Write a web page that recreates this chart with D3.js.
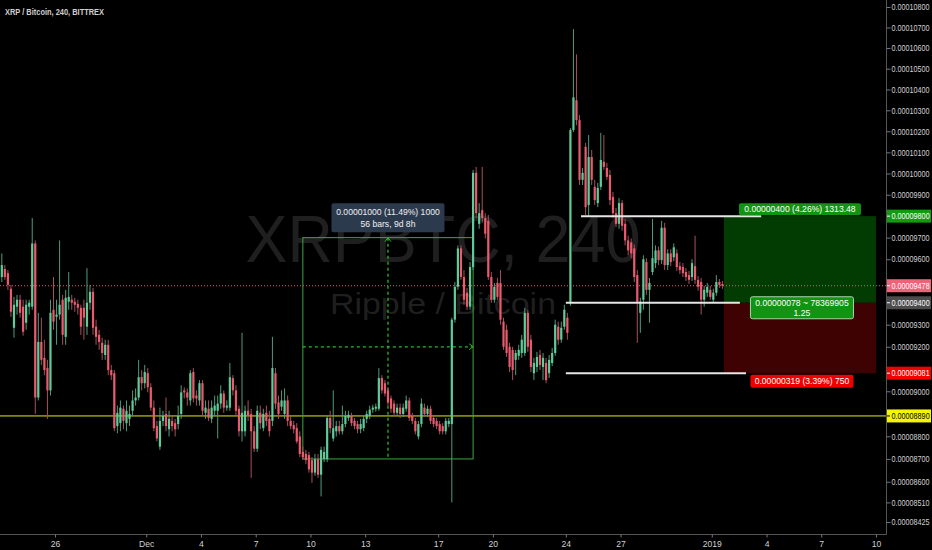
<!DOCTYPE html>
<html><head><meta charset="utf-8">
<script src="https://cdn.jsdelivr.net/npm/d3@7"></script>
<style>html,body{margin:0;padding:0;background:#000;overflow:hidden}svg{display:block}</style>
</head><body>
<svg id="chart" width="932" height="550"></svg>
<script>
// ---- DATA (price in satoshi = 1e-8 BTC) ----
const firstBar = "2018-11-23T00:00:00Z";
const barHours = 4;
const opens = [
9518,9555,9536,9464,9286,9382,9414,9382,9309,9382,
9382,9673,8972,9222,9150,9104,9004,9368,9336,9346,
9414,9245,9405,9414,9405,9395,9377,9377,9291,9400,
9450,9291,9254,9218,9163,9209,9095,9081,8845,8858,
8922,8858,8877,8913,8959,8972,9063,9036,9081,9018,
8927,8845,8754,8868,8899,8831,8868,8858,8854,8899,
9004,8995,8959,9086,8981,8959,9036,8904,8922,8877,
8913,8913,8945,8990,8927,8927,9059,9004,8922,8822,
8822,8913,8899,8822,8745,8904,8836,8904,8877,8868,
9081,8950,8931,8899,8959,8868,8849,8836,8799,8731,
8722,8717,8695,8640,8699,8631,8699,8699,8881,8790,
8822,8845,8822,8854,8881,8890,8868,8854,8831,8836,
8877,8890,8918,8922,8922,9059,9036,9004,8968,8945,
8904,8927,8899,8922,8959,8890,8868,8799,8854,8927,
8899,8922,8881,8868,8854,8845,8822,8854,8854,9323,
9473,9650,9518,9446,9382,9564,10003,9764,9828,9791,
9778,9518,9414,9491,9491,9314,9277,9200,9186,9141,
9159,9172,9172,9354,9232,9081,9109,9163,9109,9127,
9081,9127,9172,9291,9232,9291,9332,9400,10206,10348,
10253,9970,10126,9852,10078,9937,9861,9937,10055,10026,
9993,9890,9814,9764,9861,9764,9687,9678,9650,9527,
9354,9414,9587,9459,9541,9582,9641,9596,9746,9573,
9627,9609,9627,9568,9564,9541,9527,9518,9568,9505,
9495,9414,9446,9459,9414,9446,9495,9486];
const highs = [
9627,9573,9550,9482,9427,9436,9436,9414,9414,9414,
9791,9687,9354,9332,9232,9141,9414,9518,9414,9687,
9436,9459,9541,9436,9423,9414,9391,9414,9559,9482,
9468,9323,9277,9241,9232,9232,9118,9095,8936,8959,
8936,8959,8936,9004,9013,9141,9095,9118,9104,9036,
8959,8868,8927,8913,8972,8913,8890,8877,8936,9027,
9018,9013,9095,9104,9004,9050,9050,8959,8959,8959,
8981,8981,9027,9004,8959,9127,9072,9027,8936,9263,
8936,8959,8922,8845,8936,8936,8922,8936,8913,9245,
9104,8981,9004,9013,8981,8890,8868,8858,8822,8754,
8740,8731,8708,8722,8722,8754,8754,8890,8913,9004,
8868,8868,8936,8913,8913,8904,8881,8868,8877,8890,
8913,8936,8940,8945,9104,9072,9050,9018,8981,8959,
8945,8945,8945,8981,8972,8904,8881,8868,8968,8945,
8936,8936,8895,8881,8868,8858,8881,8881,9332,9495,
9664,9664,9550,9468,9587,10017,10031,9861,10031,9814,
9805,9541,9491,9514,9550,9332,9300,9218,9200,9186,
9209,9254,9377,9368,9254,9150,9177,9186,9172,9150,
9163,9195,9323,9314,9314,9391,9354,10215,10692,10569,
10277,10026,10145,10182,10111,9970,9956,10192,10182,10050,
10017,9913,9838,9885,9875,9787,9709,9696,9668,9550,
9423,9618,9605,9514,9787,9664,9659,9778,9769,9646,
9646,9673,9646,9587,9582,9559,9546,9600,9709,9523,
9514,9477,9491,9477,9464,9527,9509,9500];
const lows = [
9495,9505,9459,9336,9241,9346,9332,9250,9277,9346,
9368,8899,8959,9118,9072,8877,8981,9277,9209,9323,
9209,9209,9368,9368,9359,9346,9254,9232,9254,9368,
9254,9209,9186,9141,9141,9072,9050,8822,8813,8822,
8831,8822,8845,8890,8936,8959,9004,9013,8995,8913,
8822,8777,8740,8845,8822,8799,8822,8799,8831,8877,
8968,8936,8936,8950,8936,8936,8890,8877,8868,8858,
8890,8790,8922,8904,8913,8913,8981,8890,8799,8777,
8799,8868,8617,8731,8731,8831,8822,8845,8799,8845,
8922,8877,8913,8877,8845,8831,8813,8768,8708,8695,
8677,8640,8595,8626,8617,8536,8686,8686,8813,8777,
8799,8808,8808,8840,8868,8845,8831,8813,8813,8822,
8858,8877,8904,8909,8913,8990,8977,8936,8904,8890,
8890,8881,8886,8909,8868,8854,8808,8786,8840,8886,
8886,8854,8840,8831,8808,8808,8808,8840,8510,9309,
9459,9505,9391,9368,9368,9550,9791,9741,9769,9696,
9505,9400,9400,9414,9300,9186,9154,9086,9050,9072,
9141,9150,9159,9177,9086,9050,9086,9095,9050,9036,
9059,9113,9159,9209,9218,9277,9232,9386,10196,10229,
9946,9946,9805,9796,9946,9852,9842,9923,10017,9970,
9852,9791,9750,9741,9732,9664,9618,9605,9495,9218,
9263,9368,9436,9309,9527,9559,9573,9578,9550,9550,
9568,9591,9546,9532,9518,9500,9486,9500,9486,9455,
9346,9382,9427,9414,9400,9432,9468,9464];
const closes = [
9573,9518,9482,9359,9391,9414,9354,9268,9391,9400,
9673,8972,9222,9141,9095,9004,9354,9314,9346,9391,
9254,9423,9427,9400,9391,9377,9291,9332,9400,9450,
9286,9245,9222,9172,9209,9095,9072,8836,8904,8927,
8868,8913,8899,8959,8972,9063,9036,9086,9018,8927,
8836,8790,8868,8890,8845,8877,8845,8831,8890,8995,
8995,8972,9081,8968,8968,9036,8913,8927,8881,8927,
8936,8945,8990,8927,8936,9063,9004,8913,8822,8904,
8913,8890,8822,8745,8913,8858,8899,8868,8822,9104,
8945,8899,8959,8959,8868,8845,8831,8777,8722,8708,
8695,8654,8640,8699,8631,8740,8731,8881,8836,8836,
8845,8822,8854,8890,8895,8858,8845,8831,8854,8877,
8899,8918,8927,8931,9059,9004,8990,8950,8922,8904,
8927,8899,8927,8959,8881,8868,8822,8854,8945,8899,
8922,8868,8854,8845,8822,8822,8868,8868,9323,9473,
9650,9518,9414,9382,9564,10003,9814,9814,9791,9718,
9518,9414,9473,9427,9323,9200,9172,9109,9095,9172,
9186,9232,9354,9200,9109,9127,9154,9118,9150,9050,
9141,9172,9300,9232,9286,9368,9263,10206,10362,10253,
9970,10003,9842,10078,9970,9875,9932,10064,10031,9984,
9875,9814,9764,9861,9755,9687,9641,9627,9518,9400,
9405,9600,9459,9491,9605,9641,9596,9746,9573,9627,
9587,9655,9564,9550,9536,9518,9505,9582,9505,9473,
9414,9459,9473,9427,9446,9495,9482,9478];

const priceTicks = [10800,10700,10600,10500,10400,10300,10200,10100,10000,9900,9700,9600,9300,9200,9000,8800,8700,8600,8510,8425];
const markerValues = [9800, 9478, 9400, 9081, 8890];   // highlighted axis labels
const dateTicks = ["2018-11-26","2018-12-01","2018-12-04","2018-12-07","2018-12-10","2018-12-13","2018-12-17","2018-12-20","2018-12-24","2018-12-27","2019-01-01","2019-01-04","2019-01-07","2019-01-10"];
const dateLabels = ["26","Dec","4","7","10","13","17","20","24","27","2019","4","7","10"];

const supportLevel = 8890;           // yellow horizontal line
const lastPrice = 9478;              // dotted price line
const measureBars = [99, 155];       // date range tool (bar indices)
const measurePrices = [8700, 9700];
const measureText = ["0.00001000 (11.49%) 1000", "56 bars, 9d 8h"];
const levelLines = [                 // white horizontal segments: price, from, to
  [9800, "2018-12-24T20:00:00Z", "2019-01-03T17:00:00Z"],
  [9400, "2018-12-24T00:00:00Z", "2019-01-02T13:00:00Z"],
  [9081, "2018-12-24T00:00:00Z", "2019-01-02T21:00:00Z"]];
const positionTimes = ["2019-01-01T16:00:00Z", "2019-01-10T00:00:00Z"];
const positionPrices = {target: 9800, entry: 9400, stop: 9081};
const positionTexts = ["0.00000400 (4.26%) 1313.48", "0.00000078 ~ 78369905", "1.25", "0.00000319 (3.39%) 750"];
const titleText = "XRP / Bitcoin, 240, BITTREX";
const watermark = ["XRPBTC, 240", "Ripple / Bitcoin"];

// ---- CHART ----
const W = 932, H = 550, plotR = 886, plotB = 534;
const font = "'Liberation Sans', Arial, sans-serif";
const svg = d3.select("#chart");
svg.append("rect").attr("width", W).attr("height", H).attr("fill", "#000");

const t0 = new Date(firstBar);
const barMid = i => new Date(t0.getTime() + (i + 0.5) * barHours * 3600e3);
const x = d3.scaleUtc()
  .domain([new Date("2018-11-23T00:00:00Z"), new Date("2019-01-10T12:00:00Z")])
  .range([0.3, 885.1]);
const y = d3.scalePow().exponent(0.5).domain([8425, 10800]).range([522, 7]);
const fmt = v => (v / 1e8).toFixed(8);
const squeeze = 0.84;   // horizontal compression of axis labels

const plot = svg.append("g");
plot.append("clipPath").attr("id", "clip").append("rect").attr("width", plotR).attr("height", plotB);
const g = plot.append("g").attr("clip-path", "url(#clip)");

// watermark
g.append("text").attr("x", 443).attr("y", 262).attr("text-anchor", "middle")
  .attr("font-family", font).attr("font-size", 66).attr("fill", "#1f1f1f")
  .attr("textLength", 395).attr("lengthAdjust", "spacingAndGlyphs").text(watermark[0]);
g.append("text").attr("x", 443).attr("y", 314).attr("text-anchor", "middle")
  .attr("font-family", font).attr("font-size", 30).attr("fill", "#1f1f1f")
  .attr("textLength", 226).attr("lengthAdjust", "spacingAndGlyphs").text(watermark[1]);

// long position zones
const px0 = x(new Date(positionTimes[0])), px1 = x(new Date(positionTimes[1]));
g.append("rect").attr("x", px0).attr("width", px1 - px0)
  .attr("y", y(positionPrices.target)).attr("height", y(positionPrices.entry) - y(positionPrices.target))
  .attr("fill", "#023c02");
g.append("rect").attr("x", px0).attr("width", px1 - px0)
  .attr("y", y(positionPrices.entry)).attr("height", y(positionPrices.stop) - y(positionPrices.entry))
  .attr("fill", "#3f0202");

// support + last price lines
g.append("line").attr("x1", 0).attr("x2", plotR).attr("y1", y(supportLevel)).attr("y2", y(supportLevel))
  .attr("stroke", "#e8e81a").attr("stroke-width", 1);
g.append("line").attr("x1", 0).attr("x2", plotR).attr("y1", y(lastPrice)).attr("y2", y(lastPrice))
  .attr("stroke", "#e0606f").attr("stroke-width", 1).attr("stroke-dasharray", "1,2");

// measure box
const mx0 = x(barMid(measureBars[0])), mx1 = x(barMid(measureBars[1]));
const my0 = y(measurePrices[1]), my1 = y(measurePrices[0]);
g.append("rect").attr("x", mx0).attr("y", my0).attr("width", mx1 - mx0).attr("height", my1 - my0)
  .attr("fill", "none").attr("stroke", "#3ea63e").attr("stroke-width", 1);
const mMidY = y((measurePrices[0] + measurePrices[1]) / 2), mMidX = (mx0 + mx1) / 2;
g.append("line").attr("x1", mx0).attr("x2", mx1).attr("y1", mMidY).attr("y2", mMidY)
  .attr("stroke", "#2fb52f").attr("stroke-width", 1.3).attr("stroke-dasharray", "3,3");
g.append("line").attr("x1", mMidX).attr("x2", mMidX).attr("y1", my0).attr("y2", my1)
  .attr("stroke", "#2fb52f").attr("stroke-width", 1.3).attr("stroke-dasharray", "3,3");
g.append("path").attr("d", `M${mx1-4},${mMidY-3}L${mx1},${mMidY}L${mx1-4},${mMidY+3}`).attr("fill", "none").attr("stroke", "#2fb52f");
g.append("path").attr("d", `M${mMidX-3},${my0+4}L${mMidX},${my0}L${mMidX+3},${my0+4}`).attr("fill", "none").attr("stroke", "#2fb52f");

// candles
const idx = d3.range(closes.length);
const candles = g.append("g");
candles.selectAll("line.w").data(idx).join("line").attr("class", "w")
  .attr("x1", i => x(barMid(i))).attr("x2", i => x(barMid(i)))
  .attr("y1", i => y(highs[i])).attr("y2", i => y(lows[i]))
  .attr("stroke", i => closes[i] >= opens[i] ? "#4f9c7c" : "#a8505e").attr("stroke-width", 1);
candles.selectAll("rect.b").data(idx).join("rect").attr("class", "b")
  .attr("x", i => x(barMid(i)) - 1.1).attr("width", 2.2)
  .attr("y", i => y(Math.max(opens[i], closes[i])))
  .attr("height", i => Math.max(1, Math.abs(y(opens[i]) - y(closes[i]))))
  .attr("fill", i => closes[i] >= opens[i] ? "#5fcb99" : "#ea5b6d");

// white level segments
g.selectAll("line.lvl").data(levelLines).join("line").attr("class", "lvl")
  .attr("x1", d => x(new Date(d[1]))).attr("x2", d => x(new Date(d[2])))
  .attr("y1", d => y(d[0])).attr("y2", d => y(d[0]))
  .attr("stroke", "#e6e6e6").attr("stroke-width", 2);

// label boxes
function box(cx, cy, w, h, fill, stroke, lines, color, lh) {
  const gg = svg.append("g");
  gg.append("rect").attr("x", cx - w / 2).attr("y", cy - h / 2).attr("width", w).attr("height", h)
    .attr("rx", 2).attr("fill", fill).attr("stroke", stroke || "none");
  lines.forEach((t, k) => {
    gg.append("text").attr("x", cx).attr("y", cy - (lines.length - 1) * lh / 2 + k * lh + 3)
      .attr("text-anchor", "middle").attr("font-family", font).attr("font-size", 8.6)
      .attr("fill", color || "#fff").text(t);
  });
}
box(mMidX, my0 - 20, 113, 29, "#2c3a4e", null, measureText, "#f0f0f0", 12);
const pcx = (px0 + px1) / 2;
box(pcx, y(positionPrices.target) - 7, 122, 12, "#119411", null, [positionTexts[0]], "#fff", 10);
box(pcx + 2, y(positionPrices.entry) + 5, 103, 22, "#119411", "#a9d6a9", [positionTexts[1], positionTexts[2]], "#fff", 9.5);
box(pcx + 2, y(positionPrices.stop) + 8, 103, 13, "#f00000", null, [positionTexts[3]], "#fff", 10);

// title
svg.append("text").attr("x", 5).attr("y", 15).attr("font-family", font).attr("font-size", 9.6)
  .attr("font-weight", "bold").attr("fill", "#d0d0d0")
  .attr("textLength", 99).attr("lengthAdjust", "spacingAndGlyphs").text(titleText);

// axes
const axisCol = "#555";
svg.append("line").attr("x1", plotR + 0.5).attr("x2", plotR + 0.5).attr("y1", 0).attr("y2", plotB + 0.5).attr("stroke", axisCol);
svg.append("line").attr("x1", 0).attr("x2", plotR + 0.5).attr("y1", plotB + 0.5).attr("y2", plotB + 0.5).attr("stroke", axisCol);

const yAxis = svg.append("g").attr("transform", `translate(${plotR + 0.5},0)`)
  .call(d3.axisRight(y).tickValues(priceTicks).tickFormat(fmt).tickSize(4).tickPadding(2));
yAxis.select(".domain").remove();
yAxis.selectAll(".tick line").attr("stroke", "#777");
yAxis.selectAll(".tick text").attr("fill", "#d0d0d0").attr("font-family", font).attr("font-size", 8.6)
  .attr("x", 5 / squeeze).attr("transform", `scale(${squeeze},1)`);

const xAxis = svg.append("g").attr("transform", `translate(0,${plotB + 0.5})`)
  .call(d3.axisBottom(x).tickValues(dateTicks.map(d => new Date(d + "T00:00:00Z")))
    .tickFormat((d, k) => dateLabels[k]).tickSize(3).tickPadding(3));
xAxis.select(".domain").remove();
xAxis.selectAll(".tick line").attr("stroke", "#777");
xAxis.selectAll(".tick text").attr("fill", "#d0d0d0").attr("font-family", font).attr("font-size", 8.6);

// highlighted axis markers
const markerBg = ["#139a13", "#ee6378", "#4c4c4c", "#f20000", "#f5f500"];
const markerFg = ["#fff", "#fff", "#fff", "#fff", "#000"];
markerValues.forEach((v, k) => {
  svg.append("rect").attr("x", plotR + 1).attr("y", y(v) - 6.5).attr("width", W - plotR - 2).attr("height", 13)
    .attr("fill", markerBg[k]);
  svg.append("line").attr("x1", plotR + 1).attr("x2", plotR + 4).attr("y1", y(v)).attr("y2", y(v)).attr("stroke", markerFg[k]);
  svg.append("text").attr("transform", `translate(${plotR + 5.5},${y(v) + 3}) scale(${squeeze},1)`)
    .attr("font-family", font).attr("font-size", 8.6)
    .attr("fill", markerFg[k]).text(fmt(v));
});
</script>
</body></html>
